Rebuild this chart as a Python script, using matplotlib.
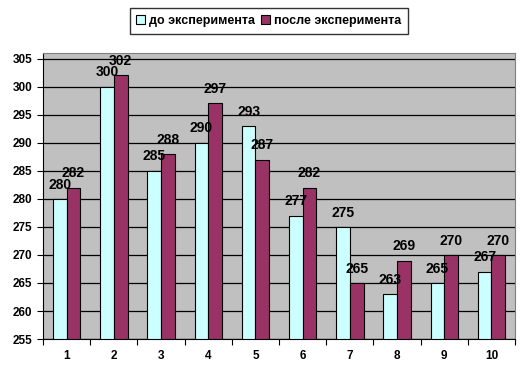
import numpy as np
import matplotlib
matplotlib.use('Agg')
import matplotlib.pyplot as plt

categories = ['1', '2', '3', '4', '5', '6', '7', '8', '9', '10']
before = [280, 300, 285, 290, 293, 277, 275, 263, 265, 267]
after = [282, 302, 288, 297, 287, 282, 265, 269, 270, 270]

plt.rcParams['font.family'] = 'Liberation Sans'
plt.rcParams['font.weight'] = 'bold'

fig = plt.figure(figsize=(5.31, 3.81), dpi=100)
ax = fig.add_axes([0.081, 0.110, 0.889, 0.751])
ax.set_facecolor('#C0C0C0')

x = np.arange(1, len(categories) + 1)
w = 0.29
ax.bar(x - w/2, np.array(before) - 255, w, bottom=255, color='#CCFFFF',
       edgecolor='black', linewidth=0.8, label='до эксперимента', zorder=3)
ax.bar(x + w/2, np.array(after) - 255, w, bottom=255, color='#993366',
       edgecolor='black', linewidth=0.8, label='после эксперимента', zorder=3)

# value labels above each bar
for xs, vals in [(x - w/2, before), (x + w/2, after)]:
    for xi, v in zip(xs, vals):
        ax.text(xi, v + 1.3, str(v), ha='center', va='bottom', fontsize=10,
                fontweight='bold', zorder=4)

ax.set_ylim(255, 306)
ax.set_xlim(0.5, len(categories) + 0.5)
ax.set_yticks(np.arange(255, 306, 5))
ax.yaxis.grid(True, color='black', linewidth=0.9, zorder=1)
ax.set_axisbelow(True)

ax.set_xticks(np.arange(0.5, len(categories) + 1, 1))
ax.set_xticklabels([])
ax.set_xticks(x, minor=True)
ax.set_xticklabels(categories, minor=True)
ax.tick_params(axis='x', which='minor', length=0, pad=8, labelsize=8.5)
ax.tick_params(axis='x', which='major', length=4, direction='out')
ax.tick_params(axis='y', length=4, direction='out', labelsize=8.5)

for s in ['top', 'right']:
    ax.spines[s].set_color('#808080')
for s in ['left', 'bottom']:
    ax.spines[s].set_color('black')

leg = fig.legend(loc='upper center', bbox_to_anchor=(0.506, 0.995), ncol=2,
                 frameon=True, fancybox=False, edgecolor='black', fontsize=9,
                 handlelength=0.7, handleheight=0.7, handletextpad=0.3,
                 columnspacing=0.5, borderpad=0.55)
leg.get_frame().set_linewidth(1.0)

fig.savefig('out.png', dpi=100)
